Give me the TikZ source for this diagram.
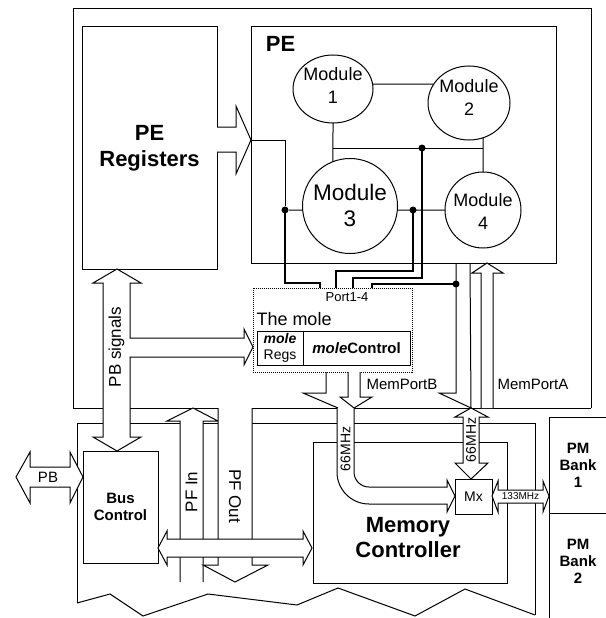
\documentclass[tikz,border=0pt]{standalone}
\usepackage{fontspec}
\setmainfont{Liberation Sans}
\usetikzlibrary{shapes.geometric}
\newcommand{\fsz}[2]{\fontsize{#1}{#2}\selectfont}
\tikzset{
  box/.style={draw, fill=white, inner sep=0pt, outer sep=0pt},
  module/.style={draw, fill=white, ellipse, inner sep=0pt, outer sep=0pt},
  blockarrow/.style={draw, fill=white, line join=miter},
  bus/.style={line width=2.6pt},
  dot/.style={circle, fill, inner sep=0pt, minimum size=7pt},
}

\begin{document}
\begin{tikzpicture}[x=1pt, y=-1pt, line width=1pt]
  \useasboundingbox (0,0) rectangle (605,618);

  % the two boards
  \draw (73,408) -- (73,9) -- (591,9) -- (591,408);
  \draw (73,408) -- (218,408);
  \draw (252,408) -- (338,408);
  \draw (354,408) -- (591,408);
  \draw (77,603) -- (77,423) -- (535,423) -- (535,615);
  \draw (77,603) -- (110,594) -- (143,616) -- (208,594) -- (297,605) -- (338,588)
        -- (415,616) -- (465,589) -- (535,615);

  % PM banks
  \draw (606,417) -- (549,417) -- (549,619);
  \draw (549,513) -- (606,513);
  \node[font=\bfseries\fsz{15}{17}, align=center] (bank1) at (578,465) {PM\\Bank\\1};
  \node[font=\bfseries\fsz{15}{17}, align=center] (bank2) at (578,561) {PM\\Bank\\2};

  % PE registers and PE
  \node[box, minimum width=135pt, minimum height=242pt,
        font=\bfseries\fsz{22}{26}, align=center] (regs) at (149.5,148) {PE\\Registers};
  \node[box, minimum width=305pt, minimum height=236pt] (pe) at (403.5,145) {};
  \node[font=\bfseries\fsz{22}{26}, anchor=base west] (pelabel) at (262,52) {PE};

  % the modules
  \node[module, minimum width=80pt, minimum height=68pt] (m1) at (333,89) {};
  \node[module, minimum width=82pt, minimum height=74pt] (m2) at (469,103) {};
  \node[module, minimum width=95pt, minimum height=95pt] (m3) at (350,206) {};
  \node[module, minimum width=76pt, minimum height=76pt] (m4) at (483,210) {};
  \node[font=\fsz{18}{23}, align=center] (m1text) at (333,85) {Module\\1};
  \node[font=\fsz{18}{23}, align=center] (m2text) at (469,97) {Module\\2};
  \node[font=\fsz{22.5}{26}, align=center] (m3text) at (350,205) {Module\\3};
  \node[font=\fsz{18}{23}, align=center] (m4text) at (483,211) {Module\\4};

  \node[dot] (d1) at (285,210) {};
  \node[dot] (d2) at (422,148) {};
  \node[dot] (d3) at (413,210) {};
  \node[dot] (d4) at (456,284) {};

  \draw (m1.7) -- (m2.152);
  \draw (m1.south) -- (m3.111);
  \path (m1.south) ++(0,25) coordinate (bus1);
  \draw (bus1) -- (bus1 -| m4);
  \draw (m2.-68) -- (m4.north);
  \draw (m3.-5) -- (m4.west);
  \draw (d1) -- (m3.185);

  % the mole
  \node[box, densely dotted, minimum width=159pt, minimum height=84pt] (mole) at (332.5,330) {};
  \node[box, minimum width=46pt, minimum height=34pt, font=\fsz{14}{16}, align=center]
    (moleregs) at (280,348) {\textbf{\textit{mole}}\\Regs};
  \node[box, minimum width=107pt, minimum height=34pt, font=\bfseries\fsz{15}{17}]
    (molectl) at (356.5,348) {\textit{mole}Control};
  \node[font=\fsz{13}{15}] (port) at (347,297) {Port1-4};
  \node[font=\fsz{18}{20}, anchor=base west, inner sep=0pt] (molename) at (256,325) {The mole};

  % ports of the modules
  \draw (251,140) -| (d1);
  \draw[bus] (d1.center) |- (320,283) -- (320,288);
  \draw[bus] (d3.center) |- (336,271) -- (336,288);
  \draw[bus] (d2.center) |- (353,278) -- (353,288);
  \draw[bus] (372,288) |- (d4.center);

  % PE registers to PE
  \draw[blockarrow] (217,127) -- (236,127) -- (236,106) -- (251,140) -- (236,174)
                    -- (236,152) -- (217,152);

  % PB signals
  \draw[blockarrow] (117,269) -- (141,283) -- (130,283) -- (130,338) -- (244,338)
    -- (244,329) -- (253,347) -- (244,365) -- (244,357) -- (130,357) -- (130,437)
    -- (141,437) -- (117,451) -- (93,437) -- (103,437) -- (103,283) -- (93,283) -- cycle;
  \node[rotate=90, font=\fsz{17}{20}] (pbsig) at (116.5,347) {PB signals};

  % bus control
  \node[box, minimum width=75pt, minimum height=112pt, font=\bfseries\fsz{15}{17},
        align=center] (busctl) at (120.5,507) {Bus\\Control};
  \draw[blockarrow] (16,477) -- (30,452) -- (30,467) -- (70,467) -- (70,452) -- (83,477)
    -- (70,503) -- (70,487) -- (30,487) -- (30,503) -- cycle;
  \node[font=\fsz{15}{18}] (pb) at (48,477) {PB};

  % PF in and out
  \draw[blockarrow] (180,582) -- (180,421) -- (167,421) -- (193,408) -- (218,421)
                    -- (203,421) -- (203,582);
  \node[rotate=90, font=\fsz{17}{20}] (pfin) at (191.5,492) {PF In};
  \draw[blockarrow] (218,408) -- (218,565) -- (203,565) -- (235,582) -- (268,565)
                    -- (252,565) -- (252,408);
  \node[rotate=-90, font=\fsz{17}{20}] (pfout) at (235,496) {PF Out};

  % memory controller
  \node[box, minimum width=194pt, minimum height=141pt] (memctl) at (410,512.5) {};
  \node[font=\bfseries\fsz{22}{25}, align=center] (memtext) at (408,538) {Memory\\Controller};
  \draw[blockarrow] (158,548) -- (167,531) -- (167,539) -- (303,539) -- (303,531)
    -- (312,548) -- (303,565) -- (303,557) -- (167,557) -- (167,565) -- cycle;

  % MemPortB
  \draw (326,372) -- (326,393) -- (303,393) -- (338,408);
  \draw[blockarrow] (348,372) -- (348,397) -- (340,397) -- (354,408) -- (372,397)
                    -- (360,397) -- (360,372);
  \node[font=\fsz{15}{18}, anchor=west, inner sep=0pt] (portb) at (366,384) {MemPortB};
  \draw (456,263) -- (456,393) -- (439,393) -- (471,408) -- (470,263);

  % MemPortA
  \draw[blockarrow] (481,408) -- (481,273) -- (472,273) -- (487,263) -- (503,273)
                    -- (493,273) -- (493,408);
  \node[font=\fsz{15}{18}, anchor=west, inner sep=0pt] (porta) at (497,384) {MemPortA};

  % 66MHz paths and the Mx
  \node[box, minimum width=37pt, minimum height=35pt, font=\fsz{14}{16}] (mx) at (473.5,496.5) {Mx};
  \draw[blockarrow] (337,408) -- (337,472) arc[start angle=180, end angle=270, radius=32pt]
    -- (447,504) -- (447,512) -- (455,496) -- (447,480) -- (447,487) -- (369,487)
    arc[start angle=270, end angle=180, radius=15pt] -- (354,408);
  \node[rotate=90, font=\fsz{14}{16}] (mhz1) at (345.5,449) {66MHz};
  \draw[blockarrow] (471,408) -- (488,417) -- (479,417) -- (479,463) -- (488,463)
    -- (471,479) -- (455,463) -- (463,463) -- (463,417) -- (455,417) -- cycle;
  \node[rotate=90, font=\fsz{14}{16}] (mhz2) at (471,440) {66MHz};
  \draw[blockarrow] (492,496) -- (498,481) -- (498,490) -- (543,490) -- (543,481)
    -- (549,496) -- (543,512) -- (543,503) -- (498,503) -- (498,512) -- cycle;
  \node[font=\fsz{10}{12}] (mhz3) at (520.5,496.5) {133MHz};

\end{tikzpicture}
\end{document}
